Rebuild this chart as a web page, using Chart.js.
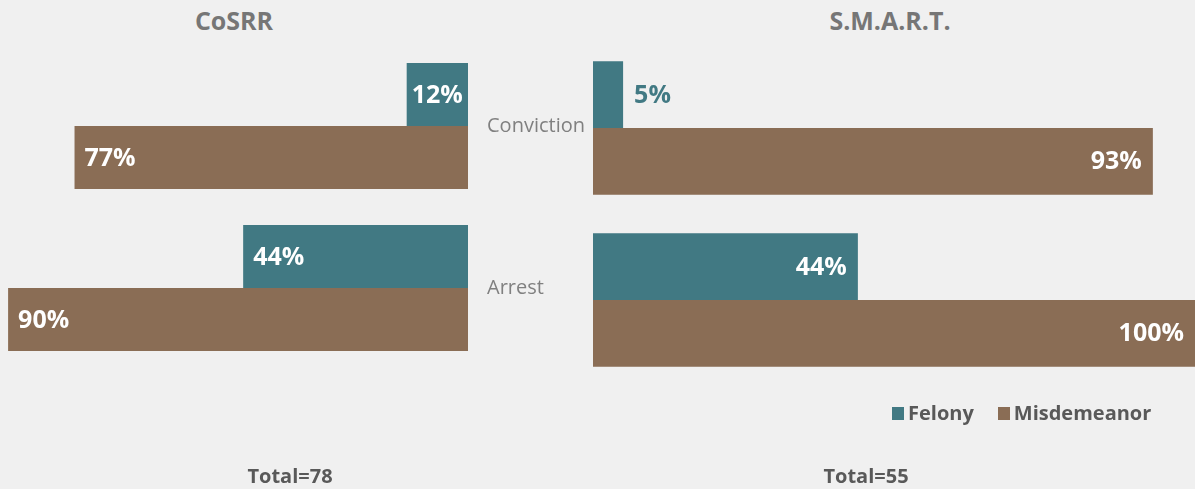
<!DOCTYPE html>
<html>
<head>
<meta charset="utf-8">
<script src="https://cdn.jsdelivr.net/npm/chart.js@4/dist/chart.umd.min.js"></script>
<style>
  html, body { margin: 0; padding: 0; }
  body {
    width: 1195px; height: 489px; overflow: hidden; position: relative;
    background: #f0f0f0; font-family: "Open Sans", sans-serif;
  }
  canvas { position: absolute; top: 0; }
  #leftChart { left: -43px; }
  #rightChart { left: 593px; }
  .title, .total { position: absolute; font-weight: bold; white-space: nowrap; transform: translate(-50%, -50%); }
  .title { top: 20px; font-size: 25px; color: #767676; }
  .total { top: 475px; font-size: 20px; color: #595959; }
  #legend { position: absolute; left: 892px; top: 401px; display: flex; font-size: 20px; font-weight: bold; color: #595959; line-height: 24px; }
  #legend .item { display: flex; align-items: center; margin-right: 24px; }
  #legend .swatch { width: 12px; height: 13px; margin-right: 4px; }
</style>
</head>
<body>
<div class="title" style="left:234px">CoSRR</div>
<div class="title" style="left:890px">S.M.A.R.T.</div>
<canvas id="leftChart" width="631" height="489"></canvas>
<canvas id="rightChart" width="602" height="489"></canvas>
<div id="legend"></div>
<div class="total" style="left:290px">Total=78</div>
<div class="total" style="left:866px">Total=55</div>
<script>
const categories = ['Conviction', 'Arrest'];
const seriesNames = ['Felony', 'Misdemeanor'];
const seriesColors = ['#417983', '#8a6d55'];

// percentages per category, same order as categories
const cosrrFelony = [12, 44];
const cosrrMisdemeanor = [77, 90];
const smartFelony = [5, 44];
const smartMisdemeanor = [93, 100];

const totals = { cosrr: 78, smart: 55 };

Chart.defaults.font.family = '"Open Sans", sans-serif';

// writes the % value on each bar: inside at the tip when it fits, outside otherwise
const valueLabels = {
  id: 'valueLabels',
  afterDatasetsDraw(chart, args, opts) {
    const ctx = chart.ctx;
    ctx.save();
    ctx.font = 'bold 25px "Open Sans"';
    ctx.textBaseline = 'middle';
    chart.data.datasets.forEach((ds, i) => {
      chart.getDatasetMeta(i).data.forEach((bar, j) => {
        const text = ds.data[j] + '%';
        const tw = ctx.measureText(text).width;
        const len = Math.abs(bar.x - bar.base);
        const dir = bar.x < bar.base ? -1 : 1;
        const pad = opts.pad || 10;
        let x, align, color = '#ffffff';
        if (len >= tw + pad * 2) {
          x = bar.x - dir * pad;
          align = dir > 0 ? 'right' : 'left';
        } else if (len >= tw + 4) {
          x = (bar.x + bar.base) / 2;
          align = 'center';
        } else {
          x = bar.x + dir * pad;
          align = dir > 0 ? 'left' : 'right';
          color = ds.backgroundColor;
        }
        ctx.textAlign = align;
        ctx.fillStyle = color;
        ctx.fillText(text, x, bar.y + 1);
      });
    });
    ctx.restore();
  }
};

function makeDatasets(felony, misdemeanor) {
  return [felony, misdemeanor].map((data, i) => ({
    label: seriesNames[i],
    data: data,
    backgroundColor: seriesColors[i],
    barPercentage: 1,
    borderWidth: 0
  }));
}

// CoSRR: bars grow to the left, category names sit on its right-hand axis
new Chart(document.getElementById('leftChart'), {
  type: 'bar',
  data: { labels: categories, datasets: makeDatasets(cosrrFelony, cosrrMisdemeanor) },
  options: {
    indexAxis: 'y',
    responsive: false,
    animation: false,
    datasets: { bar: { categoryPercentage: 0.778 } },
    layout: { padding: { top: 45, bottom: 120, left: 0, right: 0 } },
    scales: {
      x: { reverse: true, min: 0, max: 100, display: false },
      y: {
        position: 'right',
        grid: { display: false, drawTicks: false },
        border: { display: false },
        ticks: { color: '#808080', font: { size: 20 }, padding: 19 },
        afterFit: (scale) => { scale.width = 120; }
      }
    },
    plugins: {
      legend: { display: false },
      tooltip: { enabled: false },
      valueLabels: { pad: 10 }
    }
  },
  plugins: [valueLabels]
});

// S.M.A.R.T.: bars grow to the right
new Chart(document.getElementById('rightChart'), {
  type: 'bar',
  data: { labels: categories, datasets: makeDatasets(smartFelony, smartMisdemeanor) },
  options: {
    indexAxis: 'y',
    responsive: false,
    animation: false,
    datasets: { bar: { categoryPercentage: 0.775 } },
    layout: { padding: { top: 42, bottom: 103, left: 0, right: 0 } },
    scales: {
      x: { min: 0, max: 100, display: false },
      y: { display: false }
    },
    plugins: {
      legend: { display: false },
      tooltip: { enabled: false },
      valueLabels: { pad: 11 }
    }
  },
  plugins: [valueLabels]
});

const legend = document.getElementById('legend');
seriesNames.forEach((name, i) => {
  const item = document.createElement('div');
  item.className = 'item';
  const swatch = document.createElement('span');
  swatch.className = 'swatch';
  swatch.style.background = seriesColors[i];
  item.appendChild(swatch);
  item.appendChild(document.createTextNode(name));
  legend.appendChild(item);
});
</script>
</body>
</html>
